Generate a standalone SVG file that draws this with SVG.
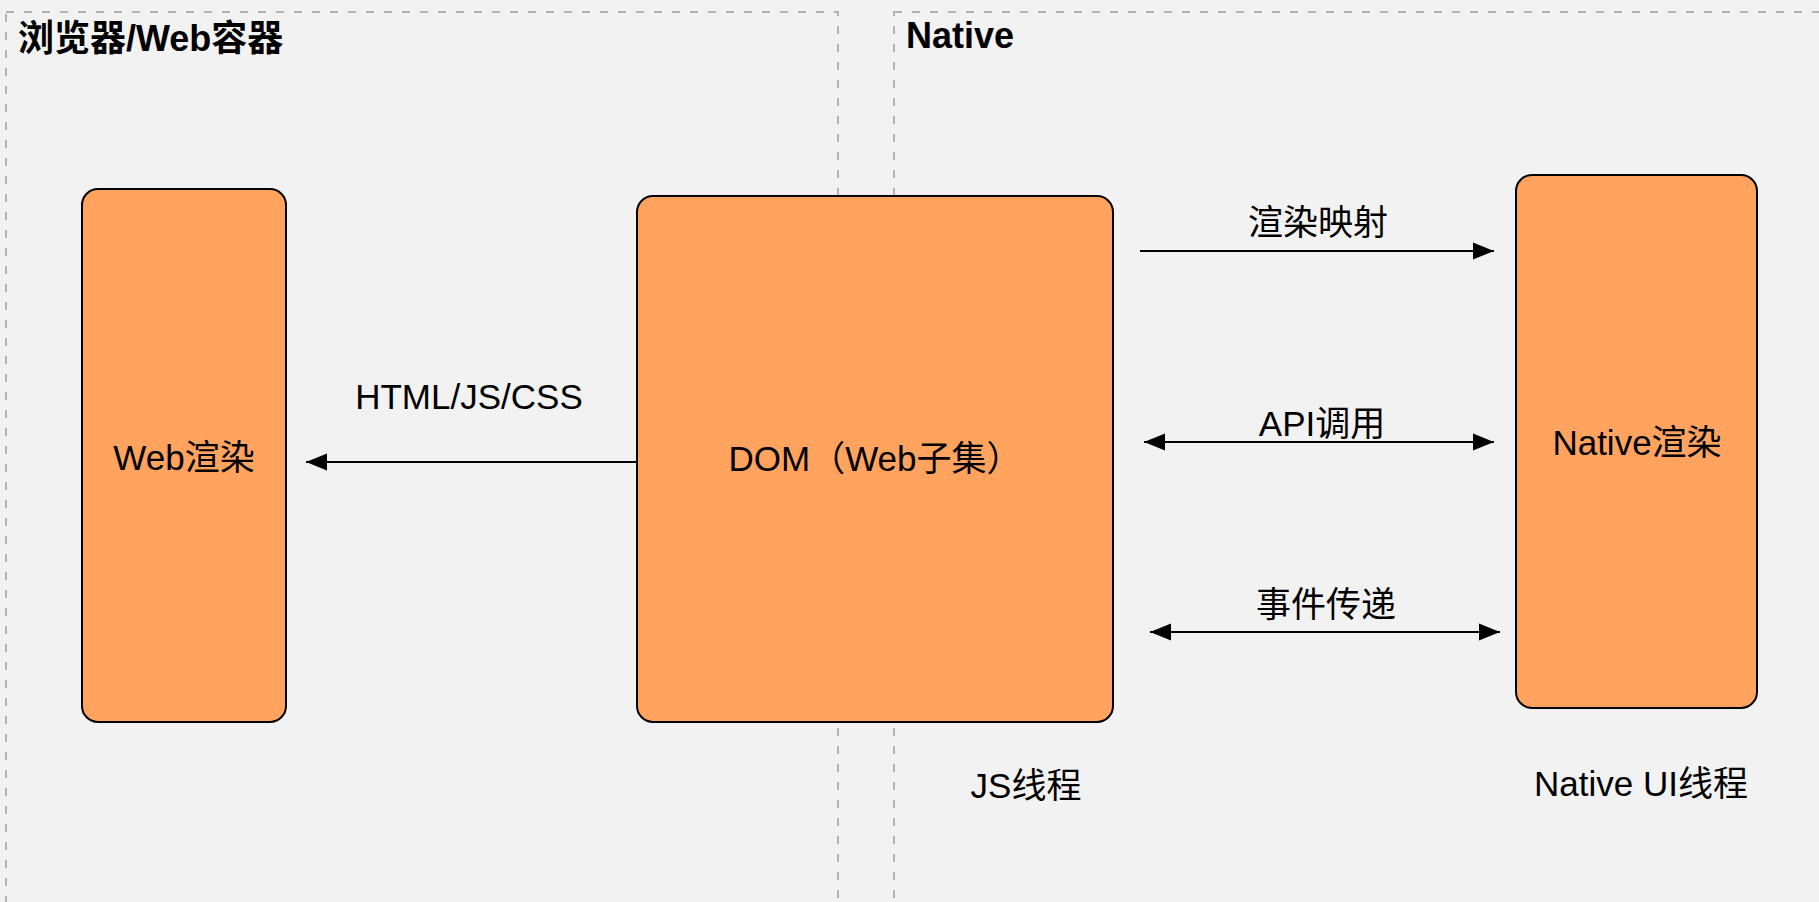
<svg xmlns="http://www.w3.org/2000/svg" width="1819" height="902" viewBox="0 0 1819 902">
  <style>
    .bg { fill: #f2f2f2; }
    .zone { fill: none; stroke: #b3b3b3; stroke-width: 2; stroke-dasharray: 8 10; }
    .box { fill: #ffa35f; stroke: #000; stroke-width: 2; }
    .title { font-family: "Liberation Sans", "Noto Sans CJK SC", sans-serif; font-size: 36px; font-weight: bold; fill: #000; }
    .lbl { font-family: "Liberation Sans", "Noto Sans CJK SC", sans-serif; font-size: 35px; fill: #000; }
    .mid { text-anchor: middle; }
    .edge { fill: none; stroke: #000; stroke-width: 2; }
  </style>
  <defs>
    <marker id="arrow" markerUnits="userSpaceOnUse" markerWidth="22" markerHeight="18" viewBox="0 0 22 18" refX="21" refY="9" orient="auto-start-reverse">
      <path d="M0,0.5 L21,9 L0,17.5 z" fill="#000"/>
    </marker>
  </defs>

  <rect class="bg" x="0" y="0" width="1819" height="902"/>

  <!-- swimlane regions -->
  <g id="zone-web">
    <rect class="zone" x="6" y="12" width="832" height="1000"/>
    <text class="title" x="18" y="51">浏览器/Web容器</text>
  </g>
  <g id="zone-native">
    <rect class="zone" x="894" y="12" width="1000" height="1000"/>
    <text class="title" x="906" y="48">Native</text>
  </g>

  <!-- nodes -->
  <g id="node-web-render">
    <rect class="box" x="82" y="189" width="204" height="533" rx="16" ry="16"/>
    <text class="lbl mid" x="184" y="470">Web渲染</text>
  </g>
  <g id="node-dom">
    <rect class="box" x="637" y="196" width="476" height="526" rx="16" ry="16"/>
    <text class="lbl mid" x="875" y="471">DOM（Web子集）</text>
  </g>
  <g id="node-native-render">
    <rect class="box" x="1516" y="175" width="241" height="533" rx="16" ry="16"/>
    <text class="lbl mid" x="1637" y="455">Native渲染</text>
  </g>

  <!-- connectors -->
  <g id="edges">
    <path class="edge" d="M636,462 L306,462" marker-end="url(#arrow)"/>
    <text class="lbl mid" x="469" y="409">HTML/JS/CSS</text>

    <path class="edge" d="M1140,251 L1494,251" marker-end="url(#arrow)"/>
    <text class="lbl mid" x="1318" y="235">渲染映射</text>

    <path class="edge" d="M1144,442 L1494,442" marker-start="url(#arrow)" marker-end="url(#arrow)"/>
    <text class="lbl mid" x="1322" y="436">API调用</text>

    <path class="edge" d="M1150,632 L1500,632" marker-start="url(#arrow)" marker-end="url(#arrow)"/>
    <text class="lbl mid" x="1326" y="617">事件传递</text>
  </g>

  <!-- thread captions -->
  <g id="captions">
    <text class="lbl mid" x="1026" y="798">JS线程</text>
    <text class="lbl mid" x="1641" y="796">Native UI线程</text>
  </g>
</svg>
